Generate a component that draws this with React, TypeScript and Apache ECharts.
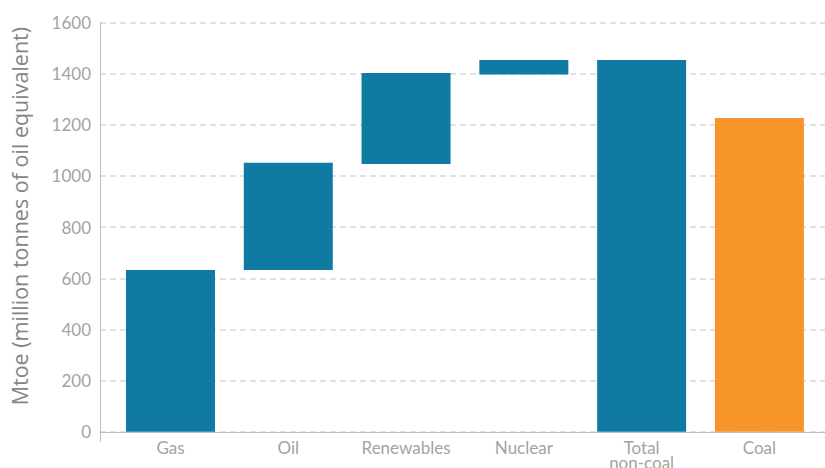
import React, { useEffect, useRef } from "react";
import * as echarts from "echarts";

const categories = ["Gas", "Oil", "Renewables", "Nuclear", "Total\nnon-coal", "Coal"];
const lows = [0, 632, 1047, 1397, 0, 0];
const highs = [632, 1052, 1403, 1453, 1453, 1227];
const barColors = ["#117aa3", "#117aa3", "#117aa3", "#117aa3", "#117aa3", "#f7952b"];
const yTicks = { min: 0, max: 1600, interval: 200 };
const yTitle = "Mtoe (million tonnes of oil equivalent)";

const FONT = "Lato, 'Noto Sans', sans-serif";
const TITLE_FONT = "'Open Sans', 'Noto Sans', sans-serif";

export default function App() {
  const ref = useRef<HTMLDivElement>(null);
  useEffect(() => {
    if (!ref.current) return;
    const chart = echarts.init(ref.current, null, { renderer: "svg" });
    chart.setOption({
      animation: false,
      grid: [
        { left: 100, right: -2, top: 22.5, bottom: 36.25, outerBoundsMode: "none", containLabel: false },
        { left: 111.6, right: 6.7, top: 22.5, bottom: 36.25, outerBoundsMode: "none", containLabel: false },
      ],
      xAxis: [
        {
          gridIndex: 0,
          type: "value",
          min: 0,
          max: 1,
          interval: 1,
          axisLine: { show: true, lineStyle: { color: "#bdbdbd", width: 1 } },
          axisTick: { show: true, length: 10, lineStyle: { color: "#bdbdbd" } },
          axisLabel: { show: false },
          splitLine: { show: false },
        },
        {
          gridIndex: 1,
          type: "category",
          data: categories,
          axisLine: { show: false },
          axisTick: { show: false },
          axisLabel: {
            color: "#a3a3a3",
            fontSize: 17,
            fontFamily: FONT,
            lineHeight: 15,
            margin: 8,
            interval: 0,
          },
        },
      ],
      yAxis: [
        {
          gridIndex: 0,
          type: "value",
          min: yTicks.min,
          max: yTicks.max,
          interval: yTicks.interval,
          name: yTitle,
          nameLocation: "middle",
          nameGap: 69,
          nameTextStyle: {
            color: "#858585",
            fontSize: 21.5,
            fontFamily: TITLE_FONT,
            lineHeight: 23,
            padding: [0, 0, 0, 22],
          },
          axisLine: { show: true, lineStyle: { color: "#bdbdbd", width: 1 } },
          axisTick: { show: false },
          axisLabel: {
            color: "#a3a3a3",
            fontSize: 17,
            fontFamily: FONT,
            margin: 9,
            formatter: (v: number) => String(v),
          },
          splitLine: {
            show: true,
            lineStyle: { color: "#d9d9d9", width: 1.5, type: [6, 4] },
          },
        },
        {
          gridIndex: 1,
          type: "value",
          min: yTicks.min,
          max: yTicks.max,
          interval: yTicks.interval,
          show: false,
          splitLine: { show: false },
        },
      ],
      series: [
        {
          type: "bar",
          xAxisIndex: 1,
          yAxisIndex: 1,
          stack: "w",
          barWidth: 89,
          itemStyle: { color: "transparent" },
          emphasis: { disabled: true },
          data: lows,
        },
        {
          type: "bar",
          xAxisIndex: 1,
          yAxisIndex: 1,
          stack: "w",
          barWidth: 89,
          data: highs.map((h, i) => ({
            value: h - lows[i],
            itemStyle: { color: barColors[i] },
          })),
        },
      ],
    });
    return () => chart.dispose();
  }, []);
  return (
    <div
      ref={ref}
      style={{ position: "absolute", left: 0, top: 0, width: 825, height: 468 }}
    />
  );
}
